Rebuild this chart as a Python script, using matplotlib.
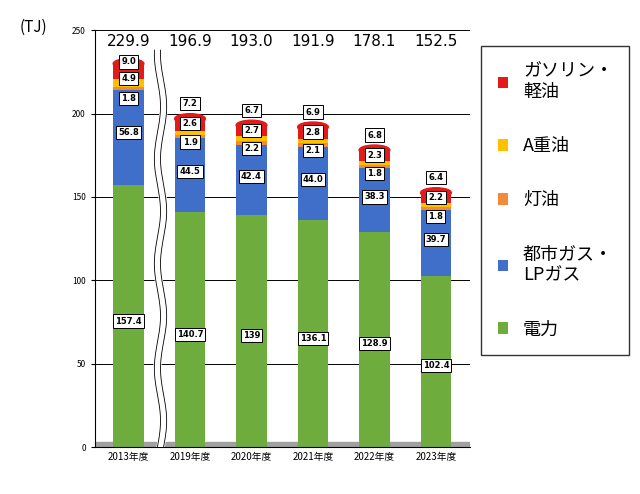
import matplotlib
matplotlib.use("Agg")
import matplotlib.pyplot as plt
import numpy as np
from matplotlib.patches import Ellipse

plt.rcParams["font.family"] = ["Noto Sans CJK JP", "DejaVu Sans"]

years = ["2013年度", "2019年度", "2020年度", "2021年度", "2022年度", "2023年度"]
totals = ["229.9", "196.9", "193.0", "191.9", "178.1", "152.5"]
denryoku = [157.4, 140.7, 139, 136.1, 128.9, 102.4]
gas = [56.8, 44.5, 42.4, 44.0, 38.3, 39.7]
toyu = [1.8, 1.9, 2.2, 2.1, 1.8, 1.8]
a_jyuyu = [4.9, 2.6, 2.7, 2.8, 2.3, 2.2]
gasoline = [9.0, 7.2, 6.7, 6.9, 6.8, 6.4]
series = [
    ("電力", denryoku, "#6fac3e"),
    ("都市ガス・\nLPガス", gas, "#3f6fc9"),
    ("灯油", toyu, "#f28a3a"),
    ("A重油", a_jyuyu, "#ffc000"),
    ("ガソリン・\n軽油", gasoline, "#e31a1a"),
]
labels_fmt = [
    ["157.4", "140.7", "139", "136.1", "128.9", "102.4"],
    ["56.8", "44.5", "42.4", "44.0", "38.3", "39.7"],
    ["1.8", "1.9", "2.2", "2.1", "1.8", "1.8"],
    ["4.9", "2.6", "2.7", "2.8", "2.3", "2.2"],
    ["9.0", "7.2", "6.7", "6.9", "6.8", "6.4"],
]

fig = plt.figure(figsize=(6.4, 4.94), dpi=100)
ax = fig.add_axes([0.148, 0.095, 0.586, 0.844])
x = np.arange(len(years))
w = 0.5
ax.set_xlim(-0.55, len(years) - 0.45)
ax.set_ylim(0, 250)
for gy in range(50, 251, 50):
    ax.axhline(gy, color="black", lw=0.7, zorder=0)
ax.axhspan(0, 3, color="#a0a0a0", zorder=0)

tot = np.sum([np.array(s[1]) for s in series], axis=0)
bottom = np.zeros(len(years))
handles = []
for si, (name, vals, col) in enumerate(series):
    vals = np.array(vals)
    b = ax.bar(x, vals, w, bottom=bottom, color=col, edgecolor="none", zorder=2, label=name)
    handles.append(b)
    for i in range(len(years)):
        if si == 0:
            yy = vals[i] * 0.48
        elif si == 1:
            yy = bottom[i] + vals[i] * 0.55
        else:
            if i == 0:
                off = {2: -21, 3: -9, 4: 1}[si]
            else:
                off = {2: -14, 3: -3, 4: 9}[si]
            yy = tot[i] + off
        ax.text(x[i], yy, labels_fmt[si][i], ha="center", va="center", fontsize=6,
                fontweight="bold", family="DejaVu Sans", zorder=5,
                bbox=dict(boxstyle="square,pad=0.25", fc="white", ec="black", lw=0.7))
    bottom = bottom + vals
for i in range(len(years)):
    ax.add_patch(Ellipse((x[i], bottom[i]), w, 6, color="#e31a1a", zorder=3))
    ax.text(x[i], 243, totals[i], ha="center", va="center", fontsize=11, family="DejaVu Sans")

# wavy break
t = np.linspace(0, 238, 200)
ax.plot(0.52 + 0.05 * np.sin(t / 10), t, color="white", lw=6, zorder=4)
ax.plot(0.47 + 0.05 * np.sin(t / 10), t, color="black", lw=0.6, zorder=4)
ax.plot(0.57 + 0.05 * np.sin(t / 10), t, color="black", lw=0.6, zorder=4)

ax.set_xticks(x)
ax.set_xticklabels(years, fontsize=7)
ax.set_yticks(range(0, 251, 50))
ax.tick_params(axis="y", labelsize=6, length=3)
ax.tick_params(axis="x", length=0)
for s in ["top", "right"]:
    ax.spines[s].set_visible(False)
fig.text(0.03, 0.935, "(TJ)", fontsize=11)

leg = fig.legend(handles[::-1], [s[0] for s in series][::-1], loc="upper left",
                 bbox_to_anchor=(0.738, 0.925), fontsize=13, frameon=True, fancybox=False,
                 edgecolor="black", handlelength=0.6, handleheight=0.6, labelspacing=2.0,
                 borderpad=0.9)
fig.savefig("out.png", dpi=100)
